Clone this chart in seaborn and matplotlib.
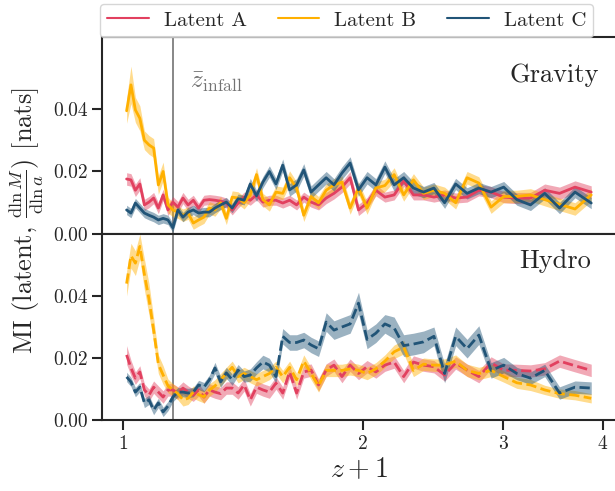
import numpy as np
import matplotlib
matplotlib.use("Agg")
import matplotlib.pyplot as plt
import matplotlib.ticker as mticker
import seaborn as sns

# scale factor of the snapshots, z + 1 = 1 / a
scale_a = [0.990, 0.9776, 0.9652, 0.9528, 0.9404, 0.928, 0.9156, 0.9032, 0.8908, 0.8784,
           0.866, 0.8536, 0.8412, 0.8288, 0.8164, 0.804, 0.7916, 0.7792, 0.7668, 0.7544,
           0.742, 0.7296, 0.7172, 0.7048, 0.6924, 0.68, 0.6676, 0.6552, 0.6428, 0.6304,
           0.618, 0.6056, 0.5932, 0.5808, 0.5684, 0.556, 0.5436, 0.5312, 0.5188, 0.5064,
           0.494, 0.4816, 0.4692, 0.4568, 0.4444, 0.432, 0.4196, 0.4072, 0.3948, 0.3824,
           0.37, 0.3576, 0.3452, 0.3328, 0.3204, 0.308, 0.2956, 0.2832, 0.2708, 0.2584]

latents = ["Latent A", "Latent B", "Latent C"]
colors = ["#e2405f", "#ffb000", "#215477"]

# Gravity run (solid)
grav_a = [0.0176, 0.0173, 0.014, 0.016, 0.0093, 0.0102, 0.0115, 0.0083, 0.0125, 0.0077,
          0.0102, 0.0086, 0.0115, 0.0093, 0.0108, 0.0083, 0.0108, 0.011, 0.0108, 0.0105,
          0.0099, 0.0077, 0.0099, 0.0118, 0.0108, 0.0125, 0.0102, 0.0108, 0.0108, 0.0099,
          0.0108, 0.0093, 0.0118, 0.0102, 0.0093, 0.0115, 0.013, 0.015, 0.018, 0.0077,
          0.0099, 0.014, 0.0118, 0.0125, 0.017, 0.0125, 0.0125, 0.0118, 0.0125, 0.0115,
          0.0118, 0.014, 0.0134, 0.0118, 0.0115, 0.0115, 0.014, 0.013, 0.015, 0.0134]
grav_a_err = [0.002, 0.002, 0.002, 0.002, 0.0018, 0.0018, 0.0018, 0.0018, 0.0018, 0.0018,
              0.0018, 0.0018, 0.0018, 0.0018, 0.0016, 0.0016, 0.0016, 0.0016, 0.0016, 0.0016,
              0.0016, 0.0016, 0.0016, 0.0016, 0.0016, 0.0016, 0.0016, 0.0016, 0.0016, 0.0016,
              0.0016, 0.0016, 0.0016, 0.0016, 0.0016, 0.0018, 0.0018, 0.0018, 0.002, 0.0018,
              0.0018, 0.0018, 0.0016, 0.0016, 0.0018, 0.0016, 0.0016, 0.0016, 0.0016, 0.0016,
              0.0016, 0.0018, 0.0018, 0.0018, 0.0018, 0.0018, 0.002, 0.002, 0.002, 0.002]

grav_b = [0.0394, 0.0477, 0.0397, 0.037, 0.030, 0.0285, 0.0275, 0.0157, 0.020, 0.0093,
          0.0077, 0.007, 0.006, 0.0067, 0.0035, 0.0045, 0.0054, 0.0083, 0.0077, 0.010,
          0.005, 0.0118, 0.0115, 0.010, 0.0125, 0.019, 0.011, 0.0093, 0.0134, 0.013,
          0.018, 0.0147, 0.006, 0.012, 0.010, 0.014, 0.0157, 0.0166, 0.0083, 0.0147,
          0.0083, 0.0147, 0.0155, 0.019, 0.0125, 0.0173, 0.013, 0.014, 0.013, 0.010,
          0.018, 0.0163, 0.0086, 0.012, 0.012, 0.0125, 0.011, 0.0095, 0.008, 0.0125]
grav_b_err = [0.004, 0.006, 0.004, 0.004, 0.003, 0.003, 0.003, 0.003, 0.003, 0.0025,
              0.0022, 0.002, 0.002, 0.002, 0.002, 0.002, 0.002, 0.002, 0.002, 0.002,
              0.002, 0.002, 0.002, 0.002, 0.002, 0.0022, 0.002, 0.002, 0.002, 0.002,
              0.0022, 0.002, 0.002, 0.002, 0.002, 0.002, 0.002, 0.002, 0.002, 0.002,
              0.002, 0.002, 0.002, 0.0022, 0.002, 0.002, 0.002, 0.002, 0.002, 0.002,
              0.002, 0.002, 0.002, 0.002, 0.002, 0.002, 0.002, 0.002, 0.002, 0.002]

grav_c = [0.0077, 0.0067, 0.0099, 0.0083, 0.0067, 0.006, 0.0054, 0.0045, 0.005, 0.0045,
          0.002, 0.0077, 0.0054, 0.007, 0.0077, 0.0067, 0.007, 0.007, 0.0083, 0.0093,
          0.0102, 0.0083, 0.0113, 0.0108, 0.016, 0.0122, 0.0166, 0.020, 0.016, 0.022,
          0.0141, 0.0157, 0.0205, 0.0134, 0.0157, 0.018, 0.0157, 0.0195, 0.0227, 0.0141,
          0.018, 0.0157, 0.0214, 0.0157, 0.018, 0.0147, 0.0134, 0.0147, 0.010, 0.016,
          0.013, 0.0147, 0.0134, 0.015, 0.011, 0.0093, 0.013, 0.0083, 0.0134, 0.0099]
grav_c_err = [0.0015, 0.0015, 0.0015, 0.0015, 0.0015, 0.0015, 0.0015, 0.0015, 0.0015, 0.0015,
              0.0015, 0.0015, 0.0015, 0.0015, 0.0015, 0.0015, 0.0015, 0.0015, 0.0015, 0.0015,
              0.0015, 0.0015, 0.0015, 0.0015, 0.0018, 0.0018, 0.0018, 0.0018, 0.0018, 0.002,
              0.002, 0.002, 0.002, 0.002, 0.002, 0.002, 0.002, 0.002, 0.002, 0.002,
              0.002, 0.002, 0.002, 0.002, 0.002, 0.002, 0.0018, 0.0018, 0.0018, 0.0018,
              0.0018, 0.0018, 0.0018, 0.0018, 0.0018, 0.0018, 0.0018, 0.0018, 0.0018, 0.0018]

# Hydro run (dashed)
hydro_a = [0.021, 0.0168, 0.0135, 0.0155, 0.0097, 0.008, 0.0106, 0.009, 0.0074, 0.0097,
           0.0097, 0.0087, 0.0103, 0.009, 0.008, 0.0097, 0.0074, 0.0097, 0.009, 0.0085,
           0.0103, 0.0103, 0.0087, 0.0113, 0.0065, 0.0106, 0.0097, 0.009, 0.0119, 0.0087,
           0.0155, 0.0087, 0.0155, 0.0161, 0.0113, 0.0161, 0.0177, 0.014, 0.0177, 0.015,
           0.0172, 0.0155, 0.0177, 0.0187, 0.014, 0.0187, 0.0177, 0.0172, 0.0145, 0.0184,
           0.0161, 0.014, 0.0184, 0.0161, 0.016, 0.0158, 0.0165, 0.019, 0.0175, 0.016]
hydro_a_err = [0.003, 0.0025, 0.002, 0.002, 0.002, 0.002, 0.002, 0.002, 0.002, 0.002,
               0.002, 0.002, 0.002, 0.002, 0.002, 0.002, 0.002, 0.002, 0.002, 0.002,
               0.002, 0.002, 0.002, 0.002, 0.002, 0.002, 0.002, 0.002, 0.002, 0.002,
               0.002, 0.002, 0.002, 0.002, 0.002, 0.002, 0.002, 0.002, 0.002, 0.002,
               0.002, 0.002, 0.002, 0.002, 0.002, 0.002, 0.002, 0.002, 0.002, 0.002,
               0.002, 0.002, 0.002, 0.002, 0.002, 0.002, 0.002, 0.002, 0.002, 0.002]

hydro_b = [0.044, 0.053, 0.0506, 0.056, 0.047, 0.039, 0.029, 0.018, 0.0145, 0.011,
           0.0097, 0.0085, 0.0065, 0.007, 0.009, 0.0082, 0.0075, 0.0097, 0.011, 0.013,
           0.015, 0.017, 0.014, 0.015, 0.014, 0.013, 0.014, 0.015, 0.017, 0.014,
           0.017, 0.013, 0.019, 0.015, 0.011, 0.016, 0.016, 0.016, 0.0165, 0.016,
           0.015, 0.0165, 0.019, 0.022, 0.0235, 0.016, 0.018, 0.0177, 0.0177, 0.019,
           0.016, 0.015, 0.016, 0.014, 0.012, 0.0113, 0.0097, 0.0085, 0.008, 0.007]
hydro_b_err = [0.004, 0.004, 0.004, 0.004, 0.005, 0.005, 0.004, 0.003, 0.003, 0.0022,
               0.002, 0.002, 0.002, 0.002, 0.002, 0.002, 0.002, 0.002, 0.002, 0.002,
               0.002, 0.002, 0.002, 0.002, 0.002, 0.002, 0.002, 0.002, 0.002, 0.002,
               0.002, 0.002, 0.002, 0.002, 0.002, 0.002, 0.002, 0.002, 0.002, 0.002,
               0.002, 0.002, 0.002, 0.0022, 0.0022, 0.002, 0.002, 0.002, 0.002, 0.002,
               0.002, 0.002, 0.002, 0.0018, 0.0018, 0.0018, 0.0015, 0.0015, 0.0015, 0.0015]

hydro_c = [0.0139, 0.0123, 0.009, 0.0106, 0.0055, 0.0065, 0.0032, 0.0055, 0.0026, 0.0045,
           0.0074, 0.009, 0.009, 0.0087, 0.009, 0.0113, 0.0106, 0.013, 0.0168, 0.0123,
           0.0152, 0.013, 0.0161, 0.014, 0.0145, 0.0168, 0.0187, 0.0177, 0.014, 0.027,
           0.025, 0.025, 0.0258, 0.0242, 0.023, 0.0316, 0.029, 0.030, 0.031, 0.0377,
           0.026, 0.028, 0.031, 0.0297, 0.024, 0.0245, 0.0252, 0.027, 0.015, 0.027,
           0.023, 0.0274, 0.016, 0.0177, 0.015, 0.0135, 0.016, 0.0087, 0.0106, 0.0103]
hydro_c_err = [0.0015, 0.0015, 0.0015, 0.0015, 0.0015, 0.0015, 0.0015, 0.0015, 0.0015, 0.0015,
               0.0015, 0.0015, 0.0015, 0.0015, 0.0015, 0.0015, 0.0015, 0.0015, 0.0018, 0.0018,
               0.0018, 0.0018, 0.0018, 0.0018, 0.002, 0.002, 0.0022, 0.0022, 0.0022, 0.0025,
               0.0025, 0.0025, 0.0025, 0.0025, 0.0025, 0.003, 0.003, 0.003, 0.003, 0.0035,
               0.003, 0.003, 0.003, 0.0035, 0.0035, 0.0035, 0.0035, 0.003, 0.003, 0.003,
               0.003, 0.003, 0.0025, 0.0025, 0.002, 0.002, 0.002, 0.002, 0.002, 0.002]

z_infall = 1.155
xtick_vals = [1, 2, 3, 4]
ytick_vals = [0.00, 0.02, 0.04]

sns.set_theme(style="ticks")
plt.rcParams["font.family"] = "serif"
plt.rcParams["font.serif"] = ["cmr10"]
plt.rcParams["mathtext.fontset"] = "cm"
plt.rcParams["axes.formatter.use_mathtext"] = True
plt.rcParams["axes.unicode_minus"] = False

zp1 = 1.0 / np.array(scale_a)

fig = plt.figure(figsize=(6.15, 4.91), dpi=100)
ax_top = fig.add_axes([0.166, 0.5234, 0.836, 0.4012])
ax_bot = fig.add_axes([0.166, 0.1446, 0.836, 0.3788], sharex=ax_top)

panels = [
    (ax_top, [grav_a, grav_b, grav_c], [grav_a_err, grav_b_err, grav_c_err], "-", "Gravity", 0.063, (0.967, 0.807)),
    (ax_bot, [hydro_a, hydro_b, hydro_c], [hydro_a_err, hydro_b_err, hydro_c_err], "--", "Hydro", 0.060, (0.951, 0.855)),
]

for ax, series, errs, ls, name, ytop, txt_pos in panels:
    for lab, col, vals, err in zip(latents, colors, series, errs):
        vals = np.array(vals)
        err = np.array(err)
        ax.fill_between(zp1, vals - err, vals + err, color=col, alpha=0.45, lw=0)
        sns.lineplot(x=zp1, y=vals, ax=ax, color=col, linestyle=ls, lw=2.0,
                     label=lab if ax is ax_top else None, legend=False)
    ax.axvline(z_infall, color="0.45", lw=1.2, zorder=0)
    ax.set_ylim(0, ytop)
    ax.set_yticks(ytick_vals)
    ax.yaxis.set_major_formatter(mticker.FormatStrFormatter("%.2f"))
    ax.text(txt_pos[0], txt_pos[1], name, transform=ax.transAxes, ha="right",
            va="center", fontsize=19)
    ax.set_ylabel("")
    for sp in ax.spines.values():
        sp.set_linewidth(1.5)
    ax.tick_params(axis="both", which="major", labelsize=14, length=7, width=1.5)

ax_top.set_xscale("log")
ax_top.set_xlim(0.941, 4.16)
ax_bot.set_xticks(xtick_vals)
ax_bot.set_xticklabels([str(v) for v in xtick_vals])
ax_bot.xaxis.set_minor_locator(mticker.NullLocator())
ax_top.tick_params(axis="x", which="both", bottom=False, labelbottom=False)
ax_bot.set_xlabel("$z+1$", fontsize=20, labelpad=3)

ax_top.text(1.212, 0.0485, r"$\bar{z}_{\rm infall}$", color="0.45", fontsize=18,
            ha="left", va="center")

fig.text(0.044, 0.55, r"MI (latent, $\frac{\mathrm{d}\ln M}{\mathrm{d}\ln a}$) [nats]",
         rotation=90, ha="center", va="center", fontsize=19)

handles, labels = ax_top.get_legend_handles_labels()
leg = ax_top.legend(handles, labels, loc="lower left", bbox_to_anchor=(-0.004, 1.0), ncol=3,
                    fontsize=15, handlelength=2.0, columnspacing=1.5, handletextpad=0.7,
                    borderaxespad=0.0, borderpad=0.35, frameon=True, fancybox=True)
for line in leg.get_lines():
    line.set_linewidth(1.5)

fig.savefig("out.png", dpi=100)
